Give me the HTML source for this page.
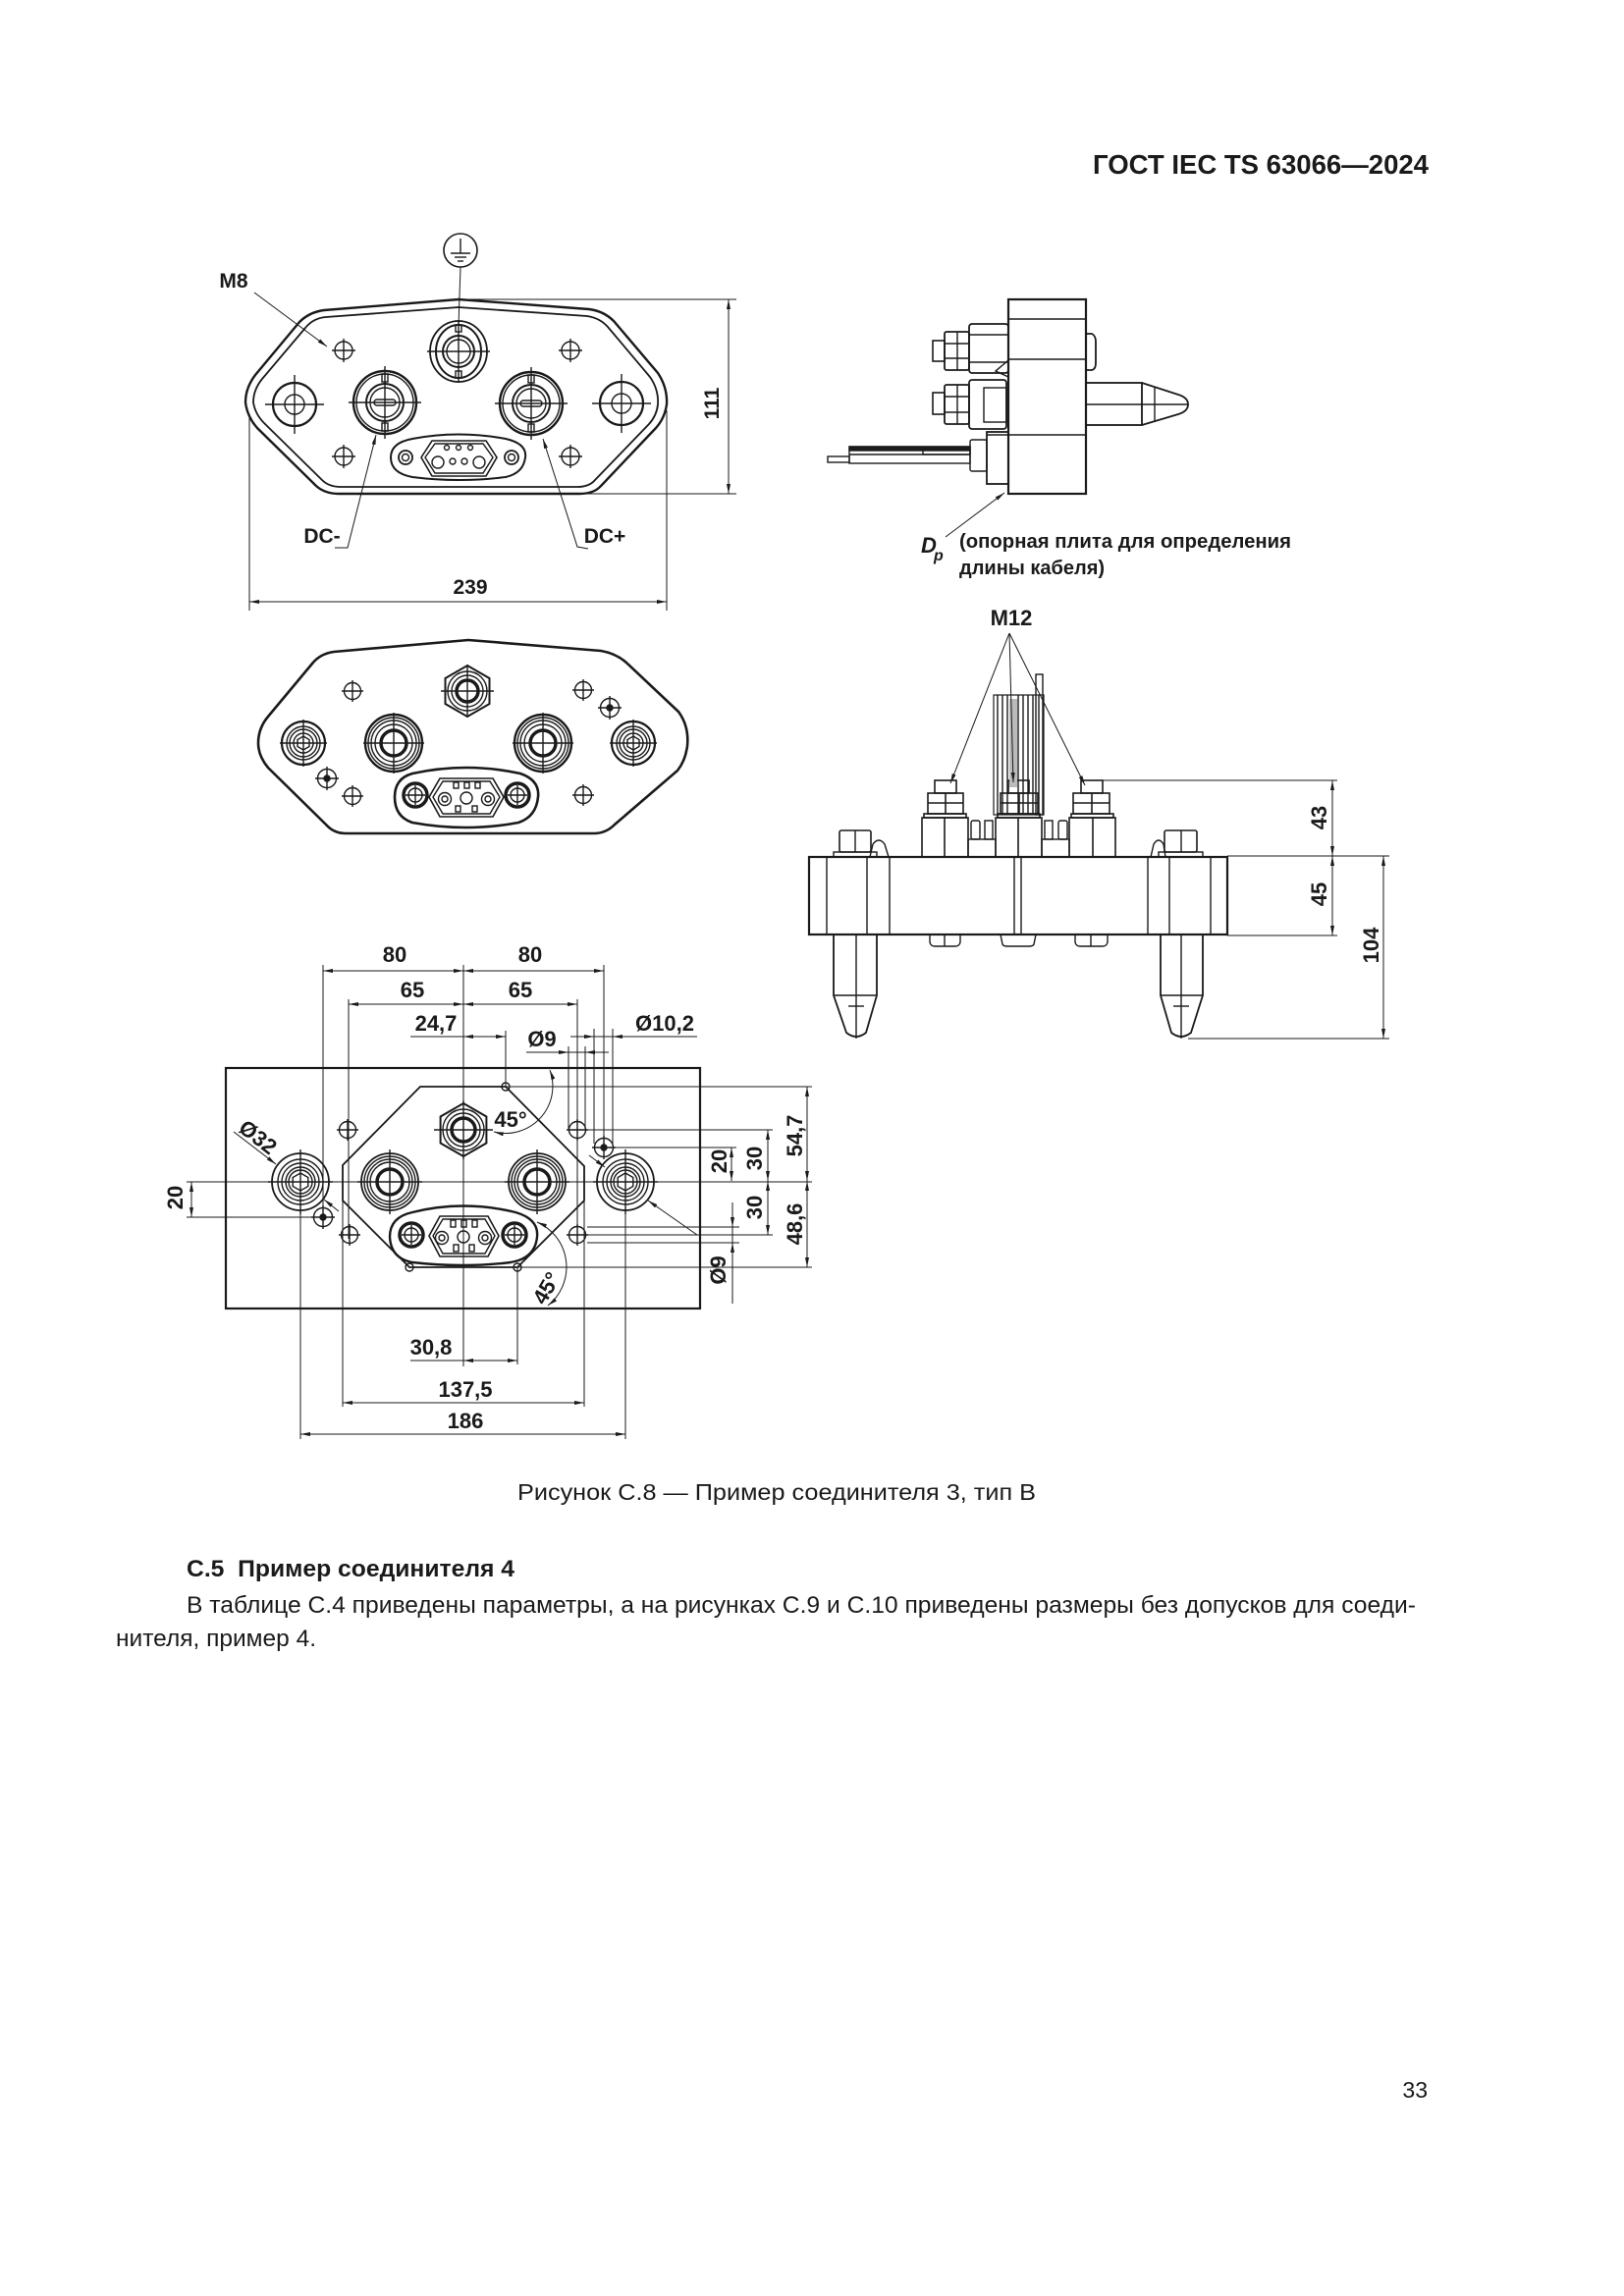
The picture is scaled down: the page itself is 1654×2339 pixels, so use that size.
<!DOCTYPE html>
<html><head><meta charset="utf-8"><style>
html,body{margin:0;padding:0;background:#fff}
svg{display:block}
text{font-family:"Liberation Sans",Arial,sans-serif;fill:#1a1a1a}
</style></head><body>
<svg width="1654" height="2339" viewBox="0 0 1654 2339" xmlns="http://www.w3.org/2000/svg">
<defs>
<marker id="ar" viewBox="0 0 10 4" refX="10" refY="2" markerWidth="10" markerHeight="4" markerUnits="userSpaceOnUse" orient="auto-start-reverse"><path d="M0,0L10,2L0,4z" fill="#1a1a1a"/></marker>
<g id="sc"><circle r="9"/><line x1="-12" x2="12"/><line y1="-12" y2="12"/></g>
<g id="sc2"><circle r="8.5"/><line x1="-11" x2="11"/><line y1="-11" y2="11"/></g>
<g id="dot"><circle r="9.5"/><circle r="3" fill="#1a1a1a"/><line x1="-12" x2="12"/><line y1="-12" y2="12"/></g>
<g id="dct"><circle r="32" stroke-width="2.4"/><circle r="29"/><circle r="19" stroke-width="2"/><circle r="15"/><rect x="-11" y="-3" width="22" height="6" rx="3"/><line x1="-37" x2="37"/><line y1="-37" y2="37"/><rect x="-3" y="-29" width="6" height="8"/><rect x="-3" y="21" width="6" height="8"/></g>
<g id="ort"><circle r="22" stroke-width="2.2"/><circle r="10"/><line x1="-30" x2="30"/><line y1="-30" y2="30"/></g>
<g id="pdc"><circle r="29" stroke-width="2.4"/><circle r="26"/><circle r="23"/><circle r="19"/><circle r="13" stroke-width="3.5"/><line x1="-31" x2="31"/><line y1="-31" y2="31"/></g>
<g id="por"><circle r="22" stroke-width="2.2"/><circle r="17"/><circle r="14"/><circle r="10"/><polygon points="0,-7 6,-3.5 6,3.5 0,7 -6,3.5 -6,-3.5"/><line x1="-24" x2="24"/><line y1="-24" y2="24"/></g>
<g id="bor"><circle r="29" stroke-width="1.8"/><circle r="23"/><circle r="19"/><circle r="15"/><circle r="12"/><polygon points="0,-9 7.8,-4.5 7.8,4.5 0,9 -7.8,4.5 -7.8,-4.5"/><line x1="-33" x2="33"/><line y1="-33" y2="33"/></g>
<g id="bdc"><circle r="29" stroke-width="1.8"/><circle r="26"/><circle r="23"/><circle r="20"/><circle r="13" stroke-width="3.5"/><line x1="-33" x2="33"/><line y1="-33" y2="33"/></g>
</defs>
<rect width="1654" height="2339" fill="#fff"/>

<!-- Header -->
<text x="1113" y="177" font-weight="bold" font-size="28" textLength="342" lengthAdjust="spacingAndGlyphs">ГОСТ IEC TS 63066—2024</text>

<!-- ===== Top-left front view ===== -->
<g stroke="#1a1a1a" fill="none" stroke-width="1.4">
<path stroke-width="2.4" d="M467 305 L600 315 Q615 317 625 327 L670 380 Q680 395 679 412 Q677 426 668 436 L612 495 Q605 503 590 503 L345 503 Q331 503 322 495 L262 436 Q252 425 250 410 Q250 395 260 382 L305 328 Q315 318 330 316 Z"/>
<path stroke-width="1.8" d="M467 313 L598 322 Q611 324 619 333 L662 384 Q671 397 670 412 Q669 423 661 432 L606 489 Q600 496 588 496 L347 496 Q335 496 328 489 L269 431 Q260 422 258 410 Q258 397 267 386 L311 334 Q319 324 332 323 Z"/>
<circle cx="469" cy="255" r="17" stroke-width="1.6"/>
<line x1="469" y1="243" x2="469" y2="258"/>
<line x1="459" y1="258" x2="479" y2="258" stroke-width="1.6"/>
<line x1="463" y1="262" x2="475" y2="262"/>
<line x1="466" y1="266" x2="472" y2="266"/>
<line x1="469" y1="272" x2="467" y2="332" stroke-width="1"/>
<line x1="259" y1="298" x2="333" y2="353" stroke-width="1" marker-end="url(#ar)"/>
<use href="#sc" x="350" y="357"/><use href="#sc" x="581" y="357"/>
<use href="#sc" x="350" y="465"/><use href="#sc" x="581" y="465"/>
<use href="#ort" x="300" y="412"/><use href="#ort" x="633" y="411"/>
<use href="#dct" x="392" y="410"/><use href="#dct" x="541" y="411"/>
<ellipse cx="467" cy="358" rx="29" ry="31" stroke-width="1.8"/>
<ellipse cx="467" cy="358" rx="23" ry="27" stroke-width="2"/>
<circle cx="467" cy="358" r="16" stroke-width="2"/>
<circle cx="467" cy="358" r="12"/>
<line x1="435" y1="358" x2="499" y2="358"/>
<line x1="467" y1="326" x2="467" y2="390"/>
<rect x="464" y="331" width="6" height="7"/><rect x="464" y="378" width="6" height="7"/>
<path stroke-width="2" d="M420 447 Q467 438 515 447 Q537 452 535 466 Q533 482 515 486 Q467 492 420 486 Q398 482 398 466 Q398 451 420 447 Z"/>
<circle cx="413" cy="466" r="7" stroke-width="1.8"/><circle cx="413" cy="466" r="3.5"/>
<circle cx="521" cy="466" r="7" stroke-width="1.8"/><circle cx="521" cy="466" r="3.5"/>
<path stroke-width="1.6" d="M440 449 L495 449 L506 466 L495 485 L440 485 L429 466 Z"/>
<path d="M443 452 L492 452 L502 466 L492 482 L443 482 L433 466 Z"/>
<circle cx="455" cy="456" r="2.5"/><circle cx="467" cy="456" r="2.5"/><circle cx="479" cy="456" r="2.5"/>
<circle cx="446" cy="471" r="6"/><circle cx="488" cy="471" r="6"/>
<circle cx="461" cy="470" r="3"/><circle cx="473" cy="470" r="3"/>
<polyline points="341,558 354,558 383,443" stroke-width="1" marker-end="url(#ar)"/>
<polyline points="599,559 588,557 553,447" stroke-width="1" marker-end="url(#ar)"/>
<line x1="254" y1="425" x2="254" y2="622" stroke-width="1"/>
<line x1="679" y1="418" x2="679" y2="622" stroke-width="1"/>
<line x1="254" y1="613" x2="679" y2="613" stroke-width="1" marker-start="url(#ar)" marker-end="url(#ar)"/>
<line x1="470" y1="305" x2="750" y2="305" stroke-width="1"/>
<line x1="596" y1="503" x2="750" y2="503" stroke-width="1"/>
<line x1="742" y1="305" x2="742" y2="503" stroke-width="1" marker-start="url(#ar)" marker-end="url(#ar)"/>
</g>
<g font-weight="bold" font-size="21" text-anchor="middle">
<text x="238" y="293">M8</text>
<text x="328" y="553">DC-</text>
<text x="616" y="553">DC+</text>
<text x="479" y="605">239</text>
<text transform="translate(725,411) rotate(-90)" y="7">111</text>
</g>

<!-- ===== Top-right side view ===== -->
<g stroke="#1a1a1a" fill="none" stroke-width="1.4">
<rect x="1027" y="305" width="79" height="198" stroke-width="2.2"/>
<line x1="1027" y1="325" x2="1106" y2="325"/>
<line x1="1027" y1="366" x2="1106" y2="366"/>
<line x1="1005" y1="443" x2="1106" y2="443"/>
<path d="M1106 340 L1112 340 Q1116 342 1116 348 L1116 370 Q1116 376 1112 377 L1106 377" stroke-width="1.8"/>
<rect x="1106" y="390" width="57" height="43" stroke-width="1.8"/>
<line x1="1106" y1="412" x2="1210" y2="412"/>
<path d="M1163 390 L1200 402 Q1210 405 1210 412 Q1210 419 1200 422 L1163 433" stroke-width="1.8"/>
<line x1="1176" y1="394" x2="1176" y2="429"/>
<rect x="987" y="330" width="40" height="50" rx="3" stroke-width="1.8"/>
<line x1="987" y1="341" x2="1027" y2="341"/><line x1="987" y1="369" x2="1027" y2="369"/>
<rect x="962" y="338" width="25" height="39" rx="2" stroke-width="1.8"/>
<line x1="962" y1="350" x2="987" y2="350"/><line x1="962" y1="365" x2="987" y2="365"/><line x1="975" y1="338" x2="975" y2="377"/>
<rect x="950" y="347" width="12" height="21" stroke-width="1.6"/>
<path d="M1027 367 L1014 378 L1027 384"/>
<rect x="987" y="387" width="38" height="50" rx="3" stroke-width="1.8"/>
<rect x="1002" y="395" width="23" height="35"/>
<rect x="962" y="392" width="25" height="40" rx="2" stroke-width="1.8"/>
<line x1="962" y1="404" x2="987" y2="404"/><line x1="962" y1="420" x2="987" y2="420"/><line x1="975" y1="392" x2="975" y2="432"/>
<rect x="950" y="400" width="12" height="22" stroke-width="1.6"/>
<rect x="1005" y="440" width="22" height="53" stroke-width="1.8"/>
<rect x="988" y="448" width="17" height="32" rx="2"/>
<rect x="865" y="455" width="123" height="17"/>
<rect x="865" y="455" width="123" height="4" fill="#1a1a1a"/>
<line x1="865" y1="463" x2="988" y2="463"/>
<rect x="940" y="458" width="48" height="5"/>
<rect x="843" y="465" width="22" height="6"/>
<line x1="963" y1="547" x2="1023" y2="502" stroke-width="1" marker-end="url(#ar)"/>
</g>
<text x="938" y="563" font-style="italic" font-weight="bold" font-size="22">D</text>
<text x="951" y="571" font-style="italic" font-weight="bold" font-size="16">p</text>
<text x="977" y="558" font-weight="bold" font-size="20" textLength="338" lengthAdjust="spacingAndGlyphs">(опорная плита для определения</text>
<text x="977" y="585" font-weight="bold" font-size="20">длины кабеля)</text>

<!-- ===== Middle-left perspective ===== -->
<g stroke="#1a1a1a" fill="none" stroke-width="1.4">
<path stroke-width="2.6" d="M477 652 L612 663 Q629 666 640 677 L691 725 Q702 740 700 760 Q698 775 690 785 L626 840 Q617 849 605 849 L352 849 Q340 849 332 840 L273 782 Q263 770 263 757 Q263 742 273 730 L318 676 Q326 666 340 664 Z"/>
<polygon points="476,678 498.5,691 498.5,717 476,730 453.5,717 453.5,691" stroke-width="2"/>
<circle cx="476" cy="704" r="20"/><circle cx="476" cy="704" r="16"/><circle cx="476" cy="704" r="11" stroke-width="3.5"/>
<line x1="449" y1="704" x2="503" y2="704"/><line x1="476" y1="677" x2="476" y2="731"/>
<use href="#por" x="309" y="757"/><use href="#por" x="645" y="757"/>
<use href="#pdc" x="401" y="757"/><use href="#pdc" x="553" y="757"/>
<use href="#sc2" x="359" y="704"/><use href="#sc2" x="594" y="703"/>
<use href="#sc2" x="359" y="811"/><use href="#sc2" x="594" y="810"/>
<use href="#dot" x="333" y="793"/><use href="#dot" x="621" y="721"/>
<path stroke-width="2.6" d="M420 788 Q475 776 530 788 Q550 795 548 812 Q546 832 528 838 Q475 848 420 838 Q402 832 402 812 Q402 793 420 788 Z"/>
<circle cx="423" cy="810" r="12" stroke-width="3.5"/><circle cx="423" cy="810" r="7"/><line x1="413" y1="810" x2="433" y2="810"/><line x1="423" y1="800" x2="423" y2="820"/>
<circle cx="527" cy="810" r="12" stroke-width="3.5"/><circle cx="527" cy="810" r="7"/><line x1="517" y1="810" x2="537" y2="810"/><line x1="527" y1="800" x2="527" y2="820"/>
<path stroke-width="1.6" d="M448 793 L502 793 L513 812 L502 832 L448 832 L437 812 Z"/>
<path d="M451 796 L499 796 L509 812 L499 829 L451 829 L441 812 Z"/>
<circle cx="453" cy="814" r="6.5"/><circle cx="453" cy="814" r="3"/>
<circle cx="497" cy="814" r="6.5"/><circle cx="497" cy="814" r="3"/>
<circle cx="475" cy="813" r="6"/>
<rect x="462" y="797" width="5" height="6"/><rect x="473" y="797" width="5" height="6"/><rect x="484" y="797" width="5" height="6"/>
<rect x="464" y="821" width="5" height="6"/><rect x="481" y="821" width="5" height="6"/>
</g>

<!-- ===== Middle-right front elevation ===== -->
<g stroke="#1a1a1a" fill="none" stroke-width="1.4">
<rect x="824" y="873" width="426" height="79" stroke-width="2.2"/>
<line x1="842" y1="873" x2="842" y2="952"/><line x1="883" y1="873" x2="883" y2="952"/><line x1="906" y1="873" x2="906" y2="952"/>
<line x1="1033" y1="873" x2="1033" y2="952"/><line x1="1040" y1="873" x2="1040" y2="952"/>
<line x1="1169" y1="873" x2="1169" y2="952"/><line x1="1191" y1="873" x2="1191" y2="952"/><line x1="1233" y1="873" x2="1233" y2="952"/>
<path stroke-width="1.8" d="M849 952 L849 1014 L862 1052 Q872 1060 882 1052 L893 1014 L893 952"/>
<line x1="849" y1="1014" x2="893" y2="1014"/><line x1="872" y1="952" x2="872" y2="1058"/><line x1="864" y1="1025" x2="880" y2="1025"/>
<path stroke-width="1.8" d="M1182 952 L1182 1014 L1193 1052 Q1203 1060 1213 1052 L1225 1014 L1225 952"/>
<line x1="1182" y1="1014" x2="1225" y2="1014"/><line x1="1203" y1="952" x2="1203" y2="1058"/><line x1="1195" y1="1025" x2="1211" y2="1025"/>
<rect x="855" y="846" width="32" height="22" rx="2" stroke-width="1.6"/><line x1="871" y1="846" x2="871" y2="868"/>
<rect x="849" y="868" width="44" height="5"/>
<path d="M886 873 L889 860 Q895 852 901 860 L905 873"/>
<rect x="1186" y="846" width="33" height="22" rx="2" stroke-width="1.6"/><line x1="1203" y1="846" x2="1203" y2="868"/>
<rect x="1180" y="868" width="45" height="5"/>
<path d="M1172 873 L1175 860 Q1180 852 1185 860 L1187 873"/>
<g stroke-width="1.6">
<rect x="939" y="833" width="47" height="40"/><line x1="962" y1="833" x2="962" y2="873"/><rect x="941" y="829" width="43" height="4"/>
<rect x="945" y="808" width="36" height="21"/><line x1="945" y1="818" x2="981" y2="818"/><line x1="963" y1="808" x2="963" y2="829"/>
<rect x="952" y="795" width="22" height="13"/>
<rect x="1014" y="833" width="47" height="40"/><line x1="1037" y1="833" x2="1037" y2="873"/><rect x="1016" y="829" width="43" height="4"/>
<rect x="1019" y="808" width="38" height="21"/><line x1="1019" y1="818" x2="1057" y2="818"/><line x1="1038" y1="808" x2="1038" y2="829"/>
<rect x="1027" y="795" width="21" height="13"/>
<rect x="1089" y="833" width="47" height="40"/><line x1="1113" y1="833" x2="1113" y2="873"/><rect x="1091" y="829" width="43" height="4"/>
<rect x="1093" y="808" width="37" height="21"/><line x1="1093" y1="818" x2="1130" y2="818"/><line x1="1112" y1="808" x2="1112" y2="829"/>
<rect x="1101" y="795" width="22" height="13"/>
</g>
<rect x="986" y="855" width="28" height="18"/><rect x="989" y="836" width="9" height="19" rx="2"/><rect x="1003" y="836" width="8" height="19"/>
<rect x="1061" y="855" width="28" height="18"/><rect x="1064" y="836" width="8" height="19"/><rect x="1078" y="836" width="9" height="19" rx="2"/>
<rect x="1012" y="708" width="51" height="122" stroke-width="1.2"/>
<rect x="1028" y="712" width="8" height="90" fill="#bbb" stroke="none"/>
<line x1="1016" y1="708" x2="1016" y2="830"/><line x1="1021" y1="708" x2="1021" y2="830"/><line x1="1026" y1="708" x2="1026" y2="830"/>
<line x1="1037" y1="708" x2="1037" y2="830"/><line x1="1042" y1="708" x2="1042" y2="830"/><line x1="1047" y1="708" x2="1047" y2="830"/>
<line x1="1052" y1="708" x2="1052" y2="830"/><line x1="1058" y1="708" x2="1058" y2="830"/>
<rect x="1055" y="687" width="7" height="143"/>
<path d="M947 952 L947 960 Q948 964 952 964 L973 964 Q977 964 978 960 L978 952"/><line x1="962" y1="952" x2="962" y2="964"/>
<path d="M1019 952 L1021 962 Q1022 964 1026 964 L1048 964 Q1052 964 1053 962 L1055 952"/>
<path d="M1095 952 L1095 960 Q1096 964 1100 964 L1123 964 Q1127 964 1128 960 L1128 952"/><line x1="1111" y1="952" x2="1111" y2="964"/>
<g stroke-width="1">
<line x1="1028" y1="645" x2="968" y2="798" marker-end="url(#ar)"/>
<line x1="1028" y1="645" x2="1032" y2="797" marker-end="url(#ar)"/>
<line x1="1028" y1="645" x2="1105" y2="800" marker-end="url(#ar)"/>
<line x1="1123" y1="795" x2="1362" y2="795"/>
<line x1="1250" y1="872" x2="1415" y2="872"/>
<line x1="1250" y1="953" x2="1362" y2="953"/>
<line x1="1210" y1="1058" x2="1415" y2="1058"/>
<line x1="1357" y1="795" x2="1357" y2="872" marker-start="url(#ar)" marker-end="url(#ar)"/>
<line x1="1357" y1="872" x2="1357" y2="953" marker-start="url(#ar)" marker-end="url(#ar)"/>
<line x1="1409" y1="872" x2="1409" y2="1058" marker-start="url(#ar)" marker-end="url(#ar)"/>
</g>
</g>
<g font-weight="bold" font-size="22" text-anchor="middle">
<text x="1030" y="637">M12</text>
<text transform="translate(1343,833) rotate(-90)" y="8">43</text>
<text transform="translate(1343,911) rotate(-90)" y="8">45</text>
<text transform="translate(1396,963) rotate(-90)" y="8">104</text>
</g>

<!-- ===== Bottom dimensioned view ===== -->
<g stroke="#1a1a1a" fill="none" stroke-width="1.4">
<rect x="230" y="1088" width="483" height="245" stroke-width="2.2"/>
<path stroke-width="1.8" d="M428 1107 L515 1107 L595 1188 L595 1223 L527 1291 L417 1291 L349 1223 L349 1187 Z"/>
<g stroke-width="1">
<line x1="472" y1="983" x2="472" y2="1392"/>
<line x1="190" y1="1204" x2="827" y2="1204"/>
<line x1="329" y1="983" x2="329" y2="1240"/>
<line x1="615" y1="983" x2="615" y2="1169"/>
<line x1="355" y1="1018" x2="355" y2="1262"/>
<line x1="588" y1="1018" x2="588" y2="1262"/>
<line x1="515" y1="1050" x2="515" y2="1107"/>
<line x1="579" y1="1066" x2="579" y2="1150"/>
<line x1="596" y1="1066" x2="596" y2="1150"/>
<line x1="605" y1="1048" x2="605" y2="1165"/>
<line x1="624" y1="1048" x2="624" y2="1165"/>
<line x1="349" y1="1223" x2="349" y2="1433"/>
<line x1="595" y1="1223" x2="595" y2="1433"/>
<line x1="527" y1="1291" x2="527" y2="1390"/>
<line x1="306" y1="1233" x2="306" y2="1466"/>
<line x1="637" y1="1233" x2="637" y2="1466"/>
<line x1="515" y1="1107" x2="827" y2="1107"/>
<line x1="598" y1="1151" x2="787" y2="1151"/>
<line x1="625" y1="1169" x2="750" y2="1169"/>
<line x1="598" y1="1258" x2="787" y2="1258"/>
<line x1="598" y1="1250" x2="753" y2="1250"/>
<line x1="598" y1="1266" x2="753" y2="1266"/>
<line x1="527" y1="1291" x2="827" y2="1291"/>
<line x1="190" y1="1240" x2="320" y2="1240"/>
<line x1="329" y1="989" x2="472" y2="989" marker-start="url(#ar)" marker-end="url(#ar)"/>
<line x1="472" y1="989" x2="615" y2="989" marker-start="url(#ar)" marker-end="url(#ar)"/>
<line x1="355" y1="1023" x2="472" y2="1023" marker-start="url(#ar)" marker-end="url(#ar)"/>
<line x1="472" y1="1023" x2="588" y2="1023" marker-start="url(#ar)" marker-end="url(#ar)"/>
<line x1="418" y1="1056" x2="515" y2="1056"/>
<line x1="482" y1="1056" x2="472" y2="1056" marker-end="url(#ar)"/>
<line x1="505" y1="1056" x2="515" y2="1056" marker-end="url(#ar)"/>
<line x1="536" y1="1072" x2="620" y2="1072"/>
<line x1="565" y1="1072" x2="579" y2="1072" marker-end="url(#ar)"/>
<line x1="610" y1="1072" x2="596" y2="1072" marker-end="url(#ar)"/>
<line x1="581" y1="1056" x2="710" y2="1056"/>
<line x1="591" y1="1056" x2="605" y2="1056" marker-end="url(#ar)"/>
<line x1="638" y1="1056" x2="624" y2="1056" marker-end="url(#ar)"/>
<line x1="745" y1="1169" x2="745" y2="1203" marker-start="url(#ar)" marker-end="url(#ar)"/>
<line x1="782" y1="1151" x2="782" y2="1203" marker-start="url(#ar)" marker-end="url(#ar)"/>
<line x1="782" y1="1203" x2="782" y2="1258" marker-start="url(#ar)" marker-end="url(#ar)"/>
<line x1="822" y1="1107" x2="822" y2="1203" marker-start="url(#ar)" marker-end="url(#ar)"/>
<line x1="822" y1="1203" x2="822" y2="1291" marker-start="url(#ar)" marker-end="url(#ar)"/>
<line x1="746" y1="1225" x2="746" y2="1328"/>
<line x1="746" y1="1238" x2="746" y2="1250" marker-end="url(#ar)"/>
<line x1="746" y1="1280" x2="746" y2="1266" marker-end="url(#ar)"/>
<line x1="195" y1="1204" x2="195" y2="1240" marker-start="url(#ar)" marker-end="url(#ar)"/>
<line x1="418" y1="1386" x2="527" y2="1386"/>
<line x1="482" y1="1386" x2="472" y2="1386" marker-end="url(#ar)"/>
<line x1="517" y1="1386" x2="527" y2="1386" marker-end="url(#ar)"/>
<line x1="349" y1="1429" x2="595" y2="1429" marker-start="url(#ar)" marker-end="url(#ar)"/>
<line x1="306" y1="1461" x2="637" y2="1461" marker-start="url(#ar)" marker-end="url(#ar)"/>
<line x1="238" y1="1153" x2="281" y2="1186" marker-end="url(#ar)"/>
<line x1="345" y1="1234" x2="330" y2="1222" marker-end="url(#ar)"/>
<line x1="600" y1="1177" x2="616" y2="1189" marker-end="url(#ar)"/>
<line x1="710" y1="1258" x2="660" y2="1223" marker-end="url(#ar)"/>
<path d="M560 1090 A48 48 0 0 1 503 1153" marker-start="url(#ar)" marker-end="url(#ar)"/>
<path d="M547 1245 A50 50 0 0 1 558 1330" marker-start="url(#ar)" marker-end="url(#ar)"/>
</g>
<use href="#bor" x="306" y="1204"/><use href="#bor" x="637" y="1204"/>
<use href="#bdc" x="397" y="1204"/><use href="#bdc" x="547" y="1204"/>
<polygon points="472,1124 495.4,1137.5 495.4,1164.5 472,1178 448.6,1164.5 448.6,1137.5" stroke-width="2"/>
<circle cx="472" cy="1151" r="21"/><circle cx="472" cy="1151" r="17"/><circle cx="472" cy="1151" r="12" stroke-width="3.5"/>
<line x1="442" y1="1151" x2="502" y2="1151"/><line x1="472" y1="1121" x2="472" y2="1181"/>
<use href="#sc2" x="354" y="1151"/><use href="#sc2" x="588" y="1151"/>
<use href="#sc2" x="356" y="1258"/><use href="#sc2" x="588" y="1258"/>
<use href="#dot" x="615" y="1169"/><use href="#dot" x="329" y="1240"/>
<circle cx="515" cy="1107" r="4"/><circle cx="417" cy="1291" r="4"/><circle cx="527" cy="1291" r="4"/>
<path stroke-width="2.4" d="M420 1235 Q472 1222 525 1235 Q549 1242 547 1260 Q545 1282 520 1286 Q472 1292 420 1286 Q398 1282 397 1260 Q397 1240 420 1235 Z"/>
<circle cx="419" cy="1258" r="12" stroke-width="3.5"/><circle cx="419" cy="1258" r="7"/><line x1="409" y1="1258" x2="429" y2="1258"/><line x1="419" y1="1248" x2="419" y2="1268"/>
<circle cx="524" cy="1258" r="12" stroke-width="3.5"/><circle cx="524" cy="1258" r="7"/><line x1="514" y1="1258" x2="534" y2="1258"/><line x1="524" y1="1248" x2="524" y2="1268"/>
<path stroke-width="1.6" d="M448 1239 L497 1239 L508 1259 L497 1280 L448 1280 L437 1259 Z"/>
<path d="M451 1242 L494 1242 L504 1259 L494 1277 L451 1277 L441 1259 Z"/>
<circle cx="450" cy="1261" r="6.5"/><circle cx="450" cy="1261" r="3"/>
<circle cx="494" cy="1261" r="6.5"/><circle cx="494" cy="1261" r="3"/>
<circle cx="472" cy="1260" r="6"/>
<rect x="459" y="1243" width="5" height="7"/><rect x="470" y="1243" width="5" height="7"/><rect x="481" y="1243" width="5" height="7"/>
<rect x="462" y="1268" width="5" height="7"/><rect x="478" y="1268" width="5" height="7"/>
</g>
<g font-weight="bold" font-size="22" text-anchor="middle">
<text x="402" y="980">80</text>
<text x="540" y="980">80</text>
<text x="420" y="1016">65</text>
<text x="530" y="1016">65</text>
<text x="444" y="1050">24,7</text>
<text x="552" y="1066">Ø9</text>
<text x="677" y="1050">Ø10,2</text>
<text x="520" y="1148">45°</text>
<text transform="translate(263,1158) rotate(38)" y="8">Ø32</text>
<text transform="translate(178,1220) rotate(-90)" y="8">20</text>
<text transform="translate(732,1183) rotate(-90)" y="8">20</text>
<text transform="translate(768,1180) rotate(-90)" y="8">30</text>
<text transform="translate(768,1230) rotate(-90)" y="8">30</text>
<text transform="translate(809,1157) rotate(-90)" y="8">54,7</text>
<text transform="translate(809,1247) rotate(-90)" y="8">48,6</text>
<text transform="translate(731,1294) rotate(-90)" y="8">Ø9</text>
<text transform="translate(556,1312) rotate(-60)" y="8">45°</text>
<text x="439" y="1380">30,8</text>
<text x="474" y="1423">137,5</text>
<text x="474" y="1455">186</text>
</g>

<!-- Caption and text -->
<text x="527" y="1528" font-size="23" textLength="528" lengthAdjust="spacingAndGlyphs">Рисунок С.8 — Пример соединителя 3, тип В</text>
<text x="190" y="1606" font-size="24" font-weight="bold" textLength="334" lengthAdjust="spacingAndGlyphs">С.5&#160; Пример соединителя 4</text>
<text x="190" y="1643" font-size="24" textLength="1252" lengthAdjust="spacingAndGlyphs">В таблице С.4 приведены параметры, а на рисунках С.9 и С.10 приведены размеры без допусков для соеди-</text>
<text x="118" y="1677" font-size="24" textLength="204" lengthAdjust="spacingAndGlyphs">нителя, пример 4.</text>
<text x="1454" y="2137" font-size="23" text-anchor="end">33</text>
</svg>
</body></html>
